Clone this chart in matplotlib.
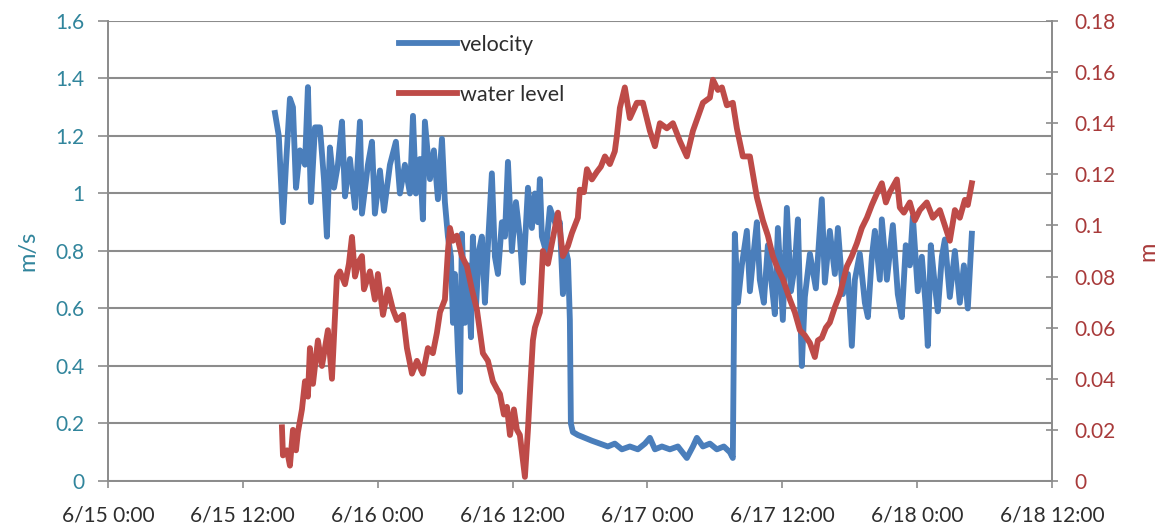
import matplotlib
matplotlib.use("Agg")
import matplotlib.pyplot as plt
from matplotlib.ticker import FuncFormatter

# time in hours from 6/15 0:00
vel_hours = [14.86, 15.2, 15.57, 15.84, 16.19, 16.46, 16.73, 17.08, 17.53, 17.79, 18.06, 18.42, 18.86,
             19.22, 19.48, 19.75, 20.11, 20.46, 20.82, 21.09, 21.53, 21.98, 22.42, 22.6, 23.13, 23.49,
             23.75, 24.2, 24.56, 25.09, 25.62, 25.98, 26.42, 26.87, 27.14, 27.4, 27.76, 28.02, 28.2,
             28.65, 29.0, 29.36, 29.72, 29.98, 30.25, 30.52, 30.7, 30.87, 31.14, 31.32, 31.49, 31.76,
             32.03, 32.3, 32.47, 32.74, 33.01, 33.27, 33.54, 33.81, 34.16, 34.43, 34.7, 35.05, 35.32,
             35.59, 35.94, 36.3, 36.65, 36.92, 37.37, 37.72, 37.99, 38.26, 38.43, 38.61, 38.97, 39.32,
             39.59, 39.95, 40.21, 40.48, 40.75, 40.93, 41.1, 41.19, 41.37, 41.81, 42.44, 43.06, 43.77,
             44.48, 45.1, 45.73, 46.44, 47.15, 47.78, 48.22, 48.67, 49.29, 50.0, 50.71, 51.51, 52.05,
             52.4, 52.94, 53.56, 54.18, 54.8, 55.34, 55.6, 55.78, 56.05, 56.4, 56.85, 57.12, 57.47,
             57.74, 58.0, 58.36, 58.72, 59.07, 59.34, 59.61, 60.05, 60.41, 60.77, 61.12, 61.39, 61.74,
             62.01, 62.46, 62.99, 63.52, 63.79, 64.23, 64.68, 64.95, 65.39, 65.84, 66.19, 66.46, 66.9,
             67.35, 67.62, 67.97, 68.24, 68.68, 68.86, 69.31, 69.84, 70.28, 70.64, 70.99, 71.35, 71.62,
             72.06, 72.42, 72.78, 72.95, 73.22, 73.58, 73.84, 74.2, 74.47, 74.91, 75.36, 75.8, 76.16,
             76.51, 76.87]
velocity = [1.28, 1.20, 0.90, 1.10, 1.33, 1.30, 1.02, 1.15, 1.10, 1.37, 0.97, 1.23, 1.23,
            1.05, 0.85, 1.16, 1.02, 1.10, 1.25, 0.99, 1.12, 0.95, 1.25, 0.93, 1.10, 1.18,
            0.93, 1.08, 0.94, 1.10, 1.18, 1.00, 1.10, 1.00, 1.27, 1.00, 1.12, 0.91, 1.25,
            1.05, 1.15, 0.98, 1.19, 0.97, 0.85, 0.78, 0.55, 0.72, 0.45, 0.31, 0.86, 0.55,
            0.75, 0.50, 0.85, 0.60, 0.80, 0.85, 0.62, 0.82, 1.07, 0.78, 0.72, 0.90, 0.85,
            1.11, 0.80, 0.97, 0.85, 0.69, 1.02, 0.88, 1.00, 0.90, 1.05, 0.85, 0.80, 0.95,
            0.92, 0.88, 0.90, 0.65, 0.80, 0.77, 0.56, 0.20, 0.17, 0.16, 0.15, 0.14, 0.13,
            0.12, 0.13, 0.11, 0.12, 0.11, 0.13, 0.15, 0.11, 0.12, 0.11, 0.12, 0.08, 0.12,
            0.15, 0.12, 0.13, 0.11, 0.12, 0.10, 0.08, 0.86, 0.62, 0.75, 0.87, 0.66, 0.80,
            0.90, 0.70, 0.62, 0.82, 0.68, 0.58, 0.88, 0.56, 0.95, 0.66, 0.75, 0.91, 0.40,
            0.64, 0.79, 0.67, 0.98, 0.69, 0.87, 0.72, 0.88, 0.65, 0.72, 0.47, 0.70, 0.79,
            0.62, 0.57, 0.78, 0.87, 0.70, 0.91, 0.70, 0.89, 0.65, 0.57, 0.82, 0.75, 0.92,
            0.66, 0.78, 0.60, 0.47, 0.82, 0.68, 0.59, 0.78, 0.84, 0.64, 0.80, 0.62, 0.75,
            0.60, 0.86]

lvl_hours = [15.48, 15.57, 15.93, 16.19, 16.46, 16.73, 16.9, 17.26, 17.53, 17.79, 17.97, 18.24, 18.68,
             19.04, 19.31, 19.57, 19.93, 20.2, 20.37, 20.64, 21.09, 21.44, 21.71, 21.98, 22.33, 22.6,
             22.78, 23.31, 23.75, 24.02, 24.47, 24.91, 25.36, 25.71, 26.25, 26.6, 27.05, 27.49, 28.02,
             28.47, 28.91, 29.27, 29.54, 29.98, 30.25, 30.43, 30.69, 31.05, 31.49, 31.94, 32.38, 32.83,
             33.36, 33.81, 34.25, 34.61, 34.88, 35.23, 35.5, 35.77, 36.12, 36.39, 36.65, 36.92, 37.1,
             37.37, 37.54, 37.81, 37.99, 38.43, 38.7, 39.15, 39.5, 40.04, 40.48, 40.93, 41.28, 41.81,
             41.99, 42.35, 42.62, 43.06, 43.51, 43.86, 44.22, 44.66, 45.1, 45.28, 45.55, 45.99, 46.44,
             47.06, 47.6, 48.22, 48.67, 49.11, 49.73, 50.27, 50.89, 51.51, 52.05, 52.94, 53.56, 53.83,
             54.27, 54.63, 55.07, 55.6, 55.96, 56.49, 57.12, 57.74, 58.27, 58.72, 59.16, 59.61, 60.05,
             60.68, 61.12, 61.57, 62.01, 62.46, 62.9, 63.17, 63.52, 63.88, 64.23, 64.68, 65.12, 65.75,
             66.19, 66.64, 67.08, 67.53, 67.97, 68.42, 68.86, 69.22, 69.57, 70.2, 70.46, 70.82, 71.35,
             71.8, 72.24, 72.86, 73.4, 74.02, 74.47, 74.91, 75.36, 75.8, 76.25, 76.51, 76.87]
water_level = [0.021, 0.010, 0.012, 0.006, 0.020, 0.012, 0.019, 0.028, 0.039, 0.033, 0.052, 0.038, 0.055,
               0.045, 0.052, 0.059, 0.040, 0.065, 0.080, 0.082, 0.077, 0.085, 0.0955, 0.080, 0.086, 0.088,
               0.075, 0.082, 0.071, 0.081, 0.065, 0.075, 0.067, 0.063, 0.065, 0.052, 0.042, 0.047, 0.042,
               0.052, 0.050, 0.058, 0.066, 0.071, 0.090, 0.099, 0.094, 0.096, 0.088, 0.084, 0.075, 0.067,
               0.050, 0.047, 0.039, 0.036, 0.034, 0.026, 0.029, 0.018, 0.028, 0.020, 0.018, 0.008, 0.0016,
               0.020, 0.034, 0.055, 0.060, 0.066, 0.090, 0.085, 0.093, 0.105, 0.088, 0.092, 0.097, 0.103,
               0.114, 0.113, 0.122, 0.118, 0.121, 0.123, 0.127, 0.124, 0.129, 0.135, 0.146, 0.154, 0.142,
               0.148, 0.148, 0.137, 0.131, 0.140, 0.138, 0.140, 0.133, 0.127, 0.137, 0.148, 0.150, 0.157,
               0.153, 0.154, 0.147, 0.148, 0.138, 0.127, 0.127, 0.111, 0.102, 0.096, 0.088, 0.083, 0.079,
               0.071, 0.066, 0.059, 0.057, 0.054, 0.0485, 0.055, 0.056, 0.060, 0.062, 0.068, 0.073, 0.084,
               0.088, 0.093, 0.099, 0.103, 0.108, 0.1125, 0.1165, 0.109, 0.113, 0.118, 0.107, 0.105, 0.109,
               0.102, 0.106, 0.109, 0.103, 0.106, 0.100, 0.094, 0.106, 0.103, 0.110, 0.108, 0.1165]

x_tick_hours = [0, 12, 24, 36, 48, 60, 72, 84]
x_tick_labels = ["6/15 0:00", "6/15 12:00", "6/16 0:00", "6/16 12:00",
                 "6/17 0:00", "6/17 12:00", "6/18 0:00", "6/18 12:00"]
left_ticks = [0, 0.2, 0.4, 0.6, 0.8, 1.0, 1.2, 1.4, 1.6]
right_ticks = [0, 0.02, 0.04, 0.06, 0.08, 0.10, 0.12, 0.14, 0.16, 0.18]

BLUE = "#4A7EBB"
RED = "#BE4B48"
TEAL = "#31859C"
DARKRED = "#A83A3A"
GRID = "#8C8C8C"
TXT = "#2E2E2E"

plt.rcParams['font.family'] = ['Lato', 'DejaVu Sans']
fig = plt.figure(figsize=(11.75, 5.3), dpi=100)
ax = fig.add_axes([0.0919, 0.0925, 0.8034, 0.8679])
ax2 = ax.twinx()

l1, = ax.plot(vel_hours, velocity, color=BLUE, lw=4.2, label="velocity")
l2, = ax2.plot(lvl_hours, water_level, color=RED, lw=4.2, label="water level")

ax.set_xlim(0, 84)
ax.set_ylim(0, 1.6)
ax2.set_ylim(0, 0.18)
ax.set_xticks(x_tick_hours)
ax.set_xticklabels(x_tick_labels)
ax.set_yticks(left_ticks)
ax2.set_yticks(right_ticks)
fmt = FuncFormatter(lambda v, p: ("%g" % round(v, 4)))
ax.yaxis.set_major_formatter(fmt)
ax2.yaxis.set_major_formatter(fmt)

ax.yaxis.grid(True, color=GRID, lw=1.5)
ax.set_axisbelow(True)

for a in (ax, ax2):
    for s in a.spines.values():
        s.set_color(GRID)
        s.set_linewidth(1.3)
    a.spines['top'].set_visible(False)

FS = 15
ax.tick_params(axis='x', colors=GRID, labelcolor=TXT, labelsize=FS, length=5, width=1.2, pad=13)
ax.tick_params(axis='y', colors=GRID, labelcolor=TEAL, labelsize=FS, length=7, width=1.2, pad=10)
ax2.tick_params(axis='y', colors=GRID, labelcolor=DARKRED, labelsize=FS, length=8, width=1.2,
                direction='inout', pad=12)

ax.set_ylabel("m/s", color=TEAL, fontsize=17, labelpad=12)
ax2.set_ylabel("m", color=DARKRED, fontsize=17, labelpad=16)

leg = ax2.legend(handles=[l1, l2], loc='upper left', bbox_to_anchor=(0.2876, 1.012),
                 frameon=False, labelspacing=1.4, handlelength=2.7,
                 handletextpad=0.15, prop={'size': 15.5})
for t in leg.get_texts():
    t.set_color(TXT)

fig.savefig("out.png", dpi=100)
